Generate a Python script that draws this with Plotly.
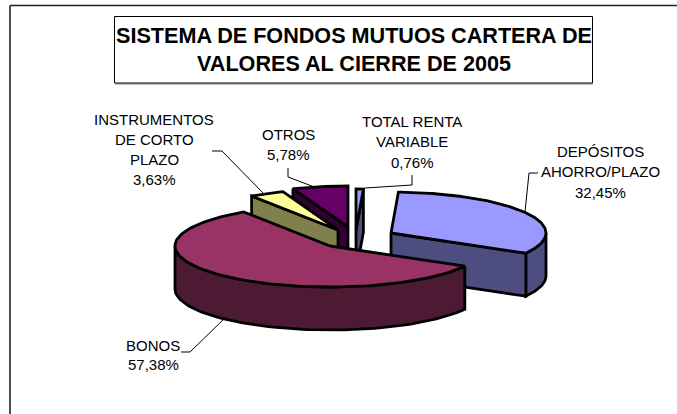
import numpy as np
import plotly.graph_objects as go

# --- data ---
categories = ["TOTAL RENTA VARIABLE", "DEPÓSITOS AHORRO/PLAZO", "BONOS",
              "INSTRUMENTOS DE CORTO PLAZO", "OTROS"]
values = [0.76, 32.45, 57.38, 3.63, 5.78]
title_lines = ["SISTEMA DE FONDOS MUTUOS CARTERA DE", "VALORES AL CIERRE DE 2005"]
label_lines = [["TOTAL RENTA", "VARIABLE"], ["DEPÓSITOS", "AHORRO/PLAZO"], ["BONOS"],
               ["INSTRUMENTOS", "DE CORTO", "PLAZO"], ["OTROS"]]

# --- layout / style (pixel space of the chart) ---
W, H = 677, 414
RX, RY, DEPTH = 155, 41, 43
apex = [(356, 230), (391, 233), (330, 246), (338, 230), (348, 227)]
top_colors = ["#9999FF", "#9999FF", "#993366", "#FFFF99", "#660066"]
side_colors = ["#4D4D80", "#4D4D80", "#4D1A33", "#80804D", "#330033"]
draw_order = [0, 4, 3, 1, 2]
label_x = [412, 600, 153, 154, 288]
label_y = [121, 151, 345, 119, 134]
line_step = [20.5, 20.5, 19.5, 20, 20]
leaders = [
    [(412, 175), (412, 185), (365, 188)],
    [(538, 173), (529, 173), (525, 212)],
    [(181, 352), (190, 352), (225, 318)],
    [(212, 151), (222, 151), (263, 193)],
    [(288, 168), (288, 177), (317, 188)],
]

fig = go.Figure()


def poly(xs, ys, color, name):
    fig.add_trace(go.Scatter(x=list(xs) + [xs[0]], y=list(ys) + [ys[0]], mode="lines",
                             fill="toself", fillcolor=color, name=name, hoverinfo="name",
                             line=dict(color="black", width=2.8), showlegend=False))


def pt(c, deg):
    a = np.radians(deg)
    return c[0] + RX * np.sin(a), c[1] - RY * np.cos(a)


ends = np.cumsum(values) / np.sum(values) * 360
starts = np.concatenate([[0], ends[:-1]])

for i in draw_order:
    c, s, e = apex[i], starts[i], ends[i]
    name = categories[i]
    lo, hi = max(s, 90), min(e, 270)
    if hi > lo:
        arc = np.linspace(lo, hi, 80)
        px, py = pt(c, arc)
        poly(np.r_[px, px[::-1]], np.r_[py, py[::-1] + DEPTH], side_colors[i], name)
    for ang, vis in ((s, np.sin(np.radians(s)) < -1e-9), (e, np.sin(np.radians(e)) > 1e-9)):
        if vis:
            qx, qy = pt(c, ang)
            poly([c[0], qx, qx, c[0]], [c[1], qy, qy + DEPTH, c[1] + DEPTH], side_colors[i], name)
    arc = np.linspace(s, e, 120)
    px, py = pt(c, arc)
    poly(np.r_[c[0], px], np.r_[c[1], py], top_colors[i], name)

for path in leaders:
    fig.add_trace(go.Scatter(x=[p[0] for p in path], y=[p[1] for p in path], mode="lines",
                             line=dict(color="black", width=1), hoverinfo="skip", showlegend=False))

annotations = []
for i, lines in enumerate(label_lines):
    texts = lines + [f"{values[i]:.2f}%".replace(".", ",")]
    for k, t in enumerate(texts):
        annotations.append(dict(x=label_x[i], y=label_y[i] + k * line_step[i], text=t,
                                xref="x", yref="y", showarrow=False,
                                font=dict(family="Liberation Sans, Arial", size=15, color="black"),
                                xanchor="center", yanchor="middle"))
for k, t in enumerate(title_lines):
    annotations.append(dict(x=354, y=35.5 + k * 28, text=f"<b>{t}</b>", xref="x", yref="y", showarrow=False,
                            font=dict(family="Liberation Sans, Arial", size=21.6, color="black"),
                            xanchor="center", yanchor="middle"))

shapes = [
    dict(type="line", xref="x", yref="y", x0=10, y0=5.5, x1=W, y1=5.5, line=dict(color="#222222", width=1.6), layer="below"),
    dict(type="line", xref="x", yref="y", x0=10, y0=5.5, x1=10, y1=H, line=dict(color="#222222", width=1.6), layer="below"),
    dict(type="line", xref="x", yref="y", x0=115, y0=84, x1=593, y1=84, line=dict(color="#888888", width=1.2), layer="below"),
    dict(type="rect", xref="x", yref="y", x0=114.5, y0=16.5, x1=592.5, y1=83,
         line=dict(color="black", width=1), fillcolor="white", layer="below"),
]

fig.update_layout(
    width=W, height=H, autosize=False,
    margin=dict(l=0, r=0, t=0, b=0),
    paper_bgcolor="white", plot_bgcolor="white",
    xaxis=dict(range=[0, W], visible=False, fixedrange=True),
    yaxis=dict(range=[H, 0], visible=False, fixedrange=True),
    annotations=annotations, shapes=shapes,
)
fig.write_html("out.html", config={"displayModeBar": False},
               post_script="document.body.style.margin='0';document.body.style.overflow='hidden';")
